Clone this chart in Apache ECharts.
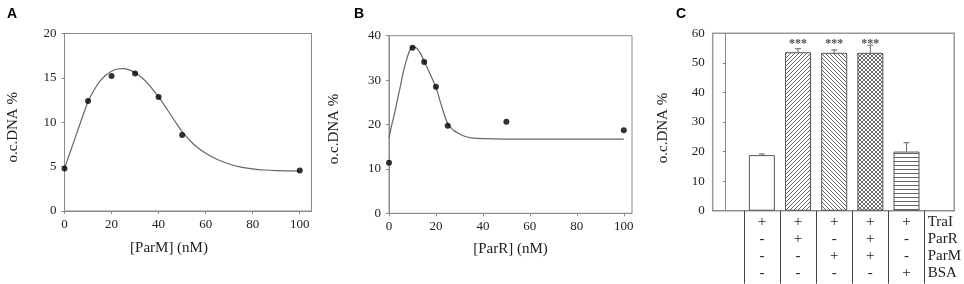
<!DOCTYPE html>
<html>
<head>
<meta charset="utf-8">
<script src="https://cdn.jsdelivr.net/npm/echarts@6/dist/echarts.min.js"></script>
<style>
  html, body { margin: 0; padding: 0; background: #fff; }
  #chart { width: 964px; height: 284px; }
</style>
</head>
<body>
<div id="chart"></div>
<script>
// panel A: ParM titration
const parMConc = [0, 10, 20, 30, 40, 50, 100]
const parMOcDna = [4.8, 12.4, 15.2, 15.5, 12.85, 8.55, 4.55]
const fitAx = [0, 2.5, 5, 7.5, 10, 12.5, 15, 17.5, 20, 22.5, 25, 27.5, 30, 32.5, 35, 37.5, 40, 42.5, 45, 47.5, 50, 55, 60, 65, 70, 75, 80, 85, 90, 95, 100]
const fitAy = [4.8, 6.7, 8.6, 10.5, 12.3, 13.6, 14.6, 15.3, 15.75, 16.0, 16.05, 15.9, 15.6, 15.1, 14.5, 13.7, 12.85, 11.9, 10.9, 9.9, 8.95, 7.5, 6.5, 5.8, 5.3, 4.95, 4.75, 4.62, 4.55, 4.52, 4.5]

// panel B: ParR titration
const parRConc = [0, 10, 15, 20, 25, 50, 100]
const parROcDna = [11.4, 37.3, 34.1, 28.5, 19.7, 20.6, 18.7]
const fitBx = [0, 1, 2.5, 4, 5, 6, 7.5, 9, 10.5, 12, 13.5, 15, 17.5, 20, 22.5, 25, 27.5, 30, 32.5, 35, 40, 50, 100]
const fitBy = [16.9, 19.5, 22.8, 26.6, 29.0, 31.6, 34.6, 36.8, 37.5, 37.1, 35.9, 34.2, 31.4, 28.3, 24.0, 20.2, 18.7, 17.9, 17.3, 17.0, 16.8, 16.7, 16.7]

// panel C: bars
const barValues = [18.8, 53.6, 53.4, 53.4, 20.0]
const barErrors = [0.4, 1.2, 1.0, 2.6, 3.0]
const sigBars = [2, 3, 4]
const rowNames = ['TraI', 'ParR', 'ParM', 'BSA']
const conditions = [
  ['+', '-', '-', '-'],
  ['+', '+', '-', '-'],
  ['+', '-', '+', '-'],
  ['+', '+', '+', '-'],
  ['+', '-', '-', '+']
]

const serif = "'Liberation Serif', 'Times New Roman', serif"
const frameColor = '#8a8a8a'

function makePattern (kind) {
  const c = document.createElement('canvas')
  const s = 4
  c.width = s
  c.height = s
  const ctx = c.getContext('2d')
  ctx.fillStyle = '#fff'
  ctx.fillRect(0, 0, s, s)
  ctx.strokeStyle = '#555'
  ctx.lineWidth = 0.9
  ctx.beginPath()
  if (kind === 'fwd' || kind === 'cross') {
    ctx.moveTo(-1, s + 1); ctx.lineTo(s + 1, -1)
    ctx.moveTo(-1, 1); ctx.lineTo(1, -1)
    ctx.moveTo(s - 1, s + 1); ctx.lineTo(s + 1, s - 1)
  }
  if (kind === 'back' || kind === 'cross') {
    ctx.moveTo(-1, -1); ctx.lineTo(s + 1, s + 1)
    ctx.moveTo(s - 1, -1); ctx.lineTo(s + 1, 1)
    ctx.moveTo(-1, s - 1); ctx.lineTo(1, s + 1)
  }
  if (kind === 'horiz') {
    ctx.moveTo(0, 1.5); ctx.lineTo(s, 1.5)
  }
  ctx.stroke()
  return { image: c, repeat: 'repeat' }
}

const barFills = ['#fff', makePattern('fwd'), makePattern('back'), makePattern('cross'), makePattern('horiz')]

const tickLabel = { color: '#222', fontSize: 13, fontFamily: serif }
const nameStyle = { color: '#222', fontSize: 15, fontFamily: serif }

function yAxisFor (gridIndex, max, interval, gap, pad) {
  return {
    gridIndex: gridIndex,
    type: 'value',
    min: 0,
    max: max,
    interval: interval,
    name: 'o.c.DNA %',
    nameLocation: 'middle',
    nameGap: gap,
    nameTextStyle: Object.assign({ padding: [0, pad, 0, 0] }, nameStyle),
    axisLine: { show: true, lineStyle: { color: frameColor } },
    axisTick: { show: true, length: 3, lineStyle: { color: frameColor } },
    axisLabel: Object.assign({ margin: 8 }, tickLabel),
    splitLine: { show: false }
  }
}

function xAxisFor (gridIndex, max, name, gap, pad) {
  const ticks = [0, 20, 40, 60, 80, 100]
  return {
    gridIndex: gridIndex,
    type: 'value',
    min: 0,
    max: max,
    name: name,
    nameLocation: 'middle',
    nameGap: gap,
    nameTextStyle: Object.assign({ padding: [0, pad, 0, 0] }, nameStyle),
    axisLine: { show: true, lineStyle: { color: frameColor } },
    axisTick: { show: true, length: 3, customValues: ticks, lineStyle: { color: frameColor } },
    axisLabel: Object.assign({ margin: 7, customValues: ticks }, tickLabel),
    splitLine: { show: false }
  }
}

const chart = echarts.init(document.getElementById('chart'), null, { renderer: 'canvas' })

const option = {
  animation: false,
  backgroundColor: '#fff',
  title: [
    { text: 'A', left: 2, top: 2, textStyle: { fontSize: 14, fontWeight: 'bold', fontFamily: "'Liberation Sans', Arial, sans-serif", color: '#000' } },
    { text: 'B', left: 349, top: 2, textStyle: { fontSize: 14, fontWeight: 'bold', fontFamily: "'Liberation Sans', Arial, sans-serif", color: '#000' } },
    { text: 'C', left: 671, top: 2, textStyle: { fontSize: 14, fontWeight: 'bold', fontFamily: "'Liberation Sans', Arial, sans-serif", color: '#000' } }
  ],
  grid: [
    { left: 64.5, top: 33.5, width: 247, height: 177.5, show: true, borderColor: frameColor, borderWidth: 1 },
    { left: 389, top: 35.7, width: 243, height: 177.6, show: true, borderColor: frameColor, borderWidth: 1 },
    { left: 712.7, top: 33.3, width: 242.3, height: 177.4, show: true, borderColor: '#999', borderWidth: 1.5 }
  ],
  xAxis: [
    xAxisFor(0, 105, '[ParM] (nM)', 30, 38),
    xAxisFor(1, 103.5, '[ParR] (nM)', 28, 0),
    {
      gridIndex: 2,
      type: 'value',
      min: -0.36,
      max: 6.32,
      axisLine: { show: true, lineStyle: { color: frameColor } },
      axisTick: { show: true, inside: false, length: 73, customValues: [0.5, 1.5, 2.5, 3.5, 4.5, 5.5], lineStyle: { color: '#444' } },
      axisLabel: {
        margin: 3,
        customValues: [1, 2, 3, 4, 5, 6],
        color: '#222',
        fontSize: 15,
        lineHeight: 17,
        fontFamily: serif,
        formatter: function (v) {
          const i = Math.round(v) - 1
          if (i < conditions.length) return conditions[i].join('\n')
          return rowNames.map(function (n) { return '{n|' + n + '}' }).join('\n')
        },
        rich: {
          n: { width: 30, align: 'left', fontSize: 15, lineHeight: 17, fontFamily: serif, color: '#222' }
        }
      },
      splitLine: { show: false }
    }
  ],
  yAxis: [
    yAxisFor(0, 20, 5, 44, 10),
    yAxisFor(1, 40, 10, 47, 9),
    yAxisFor(2, 60, 10, 42, 12)
  ],
  series: [
    {
      type: 'line',
      xAxisIndex: 0,
      yAxisIndex: 0,
      data: fitAx.map(function (x, i) { return [x, fitAy[i]] }),
      smooth: 0.4,
      showSymbol: false,
      lineStyle: { color: '#666', width: 1.2 },
      z: 2
    },
    {
      type: 'scatter',
      xAxisIndex: 0,
      yAxisIndex: 0,
      data: parMConc.map(function (x, i) { return [x, parMOcDna[i]] }),
      symbolSize: 6,
      itemStyle: { color: '#000' },
      z: 3
    },
    {
      type: 'line',
      xAxisIndex: 1,
      yAxisIndex: 1,
      data: fitBx.map(function (x, i) { return [x, fitBy[i]] }),
      smooth: 0.4,
      showSymbol: false,
      lineStyle: { color: '#666', width: 1.2 },
      z: 2
    },
    {
      type: 'scatter',
      xAxisIndex: 1,
      yAxisIndex: 1,
      data: parRConc.map(function (x, i) { return [x, parROcDna[i]] }),
      symbolSize: 6,
      itemStyle: { color: '#000' },
      z: 3
    },
    {
      type: 'bar',
      xAxisIndex: 2,
      yAxisIndex: 2,
      barWidth: 26,
      data: barValues.map(function (v, i) {
        return { value: [i + 1, v], itemStyle: { color: barFills[i] } }
      }),
      itemStyle: { borderColor: '#555', borderWidth: 1 },
      z: 2
    },
    {
      type: 'custom',
      xAxisIndex: 2,
      yAxisIndex: 2,
      data: barValues.map(function (v, i) { return [i + 1, v, barErrors[i]] }),
      renderItem: function (params, api) {
        const x = api.value(0)
        const v = api.value(1)
        const e = api.value(2)
        const p0 = api.coord([x, v])
        const p1 = api.coord([x, v + e])
        const st = { stroke: '#666', lineWidth: 1 }
        return {
          type: 'group',
          children: [
            { type: 'line', shape: { x1: p0[0], y1: p0[1], x2: p1[0], y2: p1[1] }, style: st },
            { type: 'line', shape: { x1: p1[0] - 3, y1: p1[1], x2: p1[0] + 3, y2: p1[1] }, style: st }
          ]
        }
      },
      z: 4
    },
    {
      type: 'scatter',
      xAxisIndex: 2,
      yAxisIndex: 2,
      symbolSize: 0,
      data: sigBars.map(function (x) { return [x, 56.4] }),
      label: {
        show: true,
        position: 'inside',
        formatter: '***',
        fontSize: 12,
        fontWeight: 'bold',
        fontFamily: serif,
        color: '#222'
      },
      z: 5
    }
  ]
}

chart.setOption(option)
</script>
</body>
</html>
